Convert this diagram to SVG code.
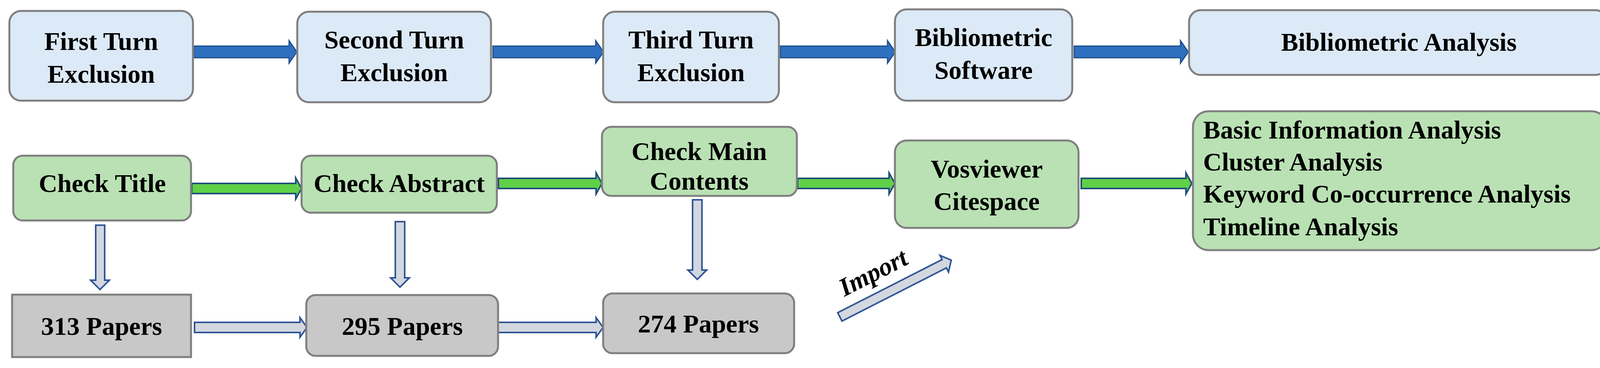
<svg xmlns="http://www.w3.org/2000/svg" width="4138" height="943" viewBox="0 0 4138 943" font-family="Liberation Serif, serif">
<style>
text{font-family:'Liberation Serif',serif;font-weight:700;font-size:66px;fill:#000;text-anchor:middle}
.blue{fill:#dce9f6;stroke:#7f7f7f;stroke-width:5}
.green{fill:#b9e1b3;stroke:#7f7f7f;stroke-width:5}
.gray{fill:#c8c8c8;stroke:#7f7f7f;stroke-width:5}
.ab{fill:#2e6fc0;stroke:#1f4e8c;stroke-width:3}
.ag{fill:#5fd047;stroke:#1f4e79;stroke-width:4}
.ay{fill:#d3d7df;stroke:#2f5597;stroke-width:4}
.l{text-anchor:start}
</style>
<rect width="4138" height="943" fill="#fff"/>
<g id="connectors">
<polygon class="ab" points="496,118 740,118 740,104 760,133 740,162 740,148 496,148"/>
<polygon class="ab" points="1262,118 1525,118 1525,104 1545,133 1525,162 1525,148 1262,148"/>
<polygon class="ab" points="1998,118 2272,118 2272,104 2292,133 2272,162 2272,148 1998,148"/>
<polygon class="ab" points="2750,118 3022,118 3022,104 3042,133 3022,162 3022,148 2750,148"/>
<polygon class="ag" points="491,470 757,470 757,456 772,483 757,510 757,496 491,496"/>
<polygon class="ag" points="1276,457 1526,457 1526,443 1541,470 1526,497 1526,483 1276,483"/>
<polygon class="ag" points="2042,457 2276,457 2276,443 2291,470 2276,497 2276,483 2042,483"/>
<polygon class="ag" points="2768,457 3036,457 3036,443 3051,470 3036,497 3036,483 2768,483"/>
<polygon class="ay" points="245,577 268,577 268,718 280,718 256,742 232,718 245,718"/>
<polygon class="ay" points="1012,568 1036,568 1036,712 1048,712 1024,736 1000,712 1012,712"/>
<polygon class="ay" points="1773,512 1797,512 1797,692 1809,692 1785,716 1761,692 1773,692"/>
<polygon class="ay" points="498,826 768,826 768,814 786,839 768,864 768,852 498,852"/>
<polygon class="ay" points="1265,826 1526,826 1526,814 1544,839 1526,864 1526,852 1265,852"/>
<polygon class="ay" transform="translate(2150,812) rotate(-27)" points="0,-12 300,-12 300,-24 320,0 300,24 300,12 0,12"/>
<text transform="translate(2245,718) rotate(-27)" font-style="italic">Import</text>
</g>
<g id="n1"><rect class="blue" x="24" y="28" width="470" height="230" rx="30"/><text x="259" y="128">First Turn</text><text x="259" y="212">Exclusion</text></g>
<g id="n2"><rect class="blue" x="761" y="30" width="496" height="232" rx="30"/><text x="1009" y="124">Second Turn</text><text x="1009" y="208">Exclusion</text></g>
<g id="n3"><rect class="blue" x="1544" y="30" width="450" height="232" rx="30"/><text x="1769" y="124">Third Turn</text><text x="1769" y="208">Exclusion</text></g>
<g id="n4"><rect class="blue" x="2291" y="24" width="454" height="234" rx="30"/><text x="2518" y="118">Bibliometric</text><text x="2518" y="202">Software</text></g>
<g id="n5"><rect class="blue" x="3044" y="26" width="1070" height="166" rx="30"/><text x="3581" y="130">Bibliometric Analysis</text></g>
<g id="n6"><rect class="green" x="34" y="399" width="455" height="166" rx="24"/><text x="262" y="492">Check Title</text></g>
<g id="n7"><rect class="green" x="772" y="399" width="500" height="146" rx="24"/><text x="1022" y="492">Check Abstract</text></g>
<g id="n8"><rect class="green" x="1541" y="325" width="499" height="177" rx="24"/><text x="1790" y="410">Check Main</text><text x="1790" y="486">Contents</text></g>
<g id="n9"><rect class="green" x="2291" y="360" width="470" height="224" rx="30"/><text x="2526" y="455">Vosviewer</text><text x="2526" y="538">Citespace</text></g>
<g id="n10"><rect class="green" x="3054" y="285" width="1060" height="356" rx="40"/>
<text class="l" x="3080" y="355">Basic Information Analysis</text>
<text class="l" x="3080" y="437">Cluster Analysis</text>
<text class="l" x="3080" y="519">Keyword Co-occurrence Analysis</text>
<text class="l" x="3080" y="603">Timeline Analysis</text></g>
<g id="n11"><rect class="gray" x="31" y="755" width="458" height="160"/><text x="260" y="858">313 Papers</text></g>
<g id="n12"><rect class="gray" x="784" y="756" width="491" height="156" rx="24"/><text x="1030" y="858">295 Papers</text></g>
<g id="n13"><rect class="gray" x="1544" y="752" width="489" height="153" rx="24"/><text x="1788" y="852">274 Papers</text></g>
</svg>
